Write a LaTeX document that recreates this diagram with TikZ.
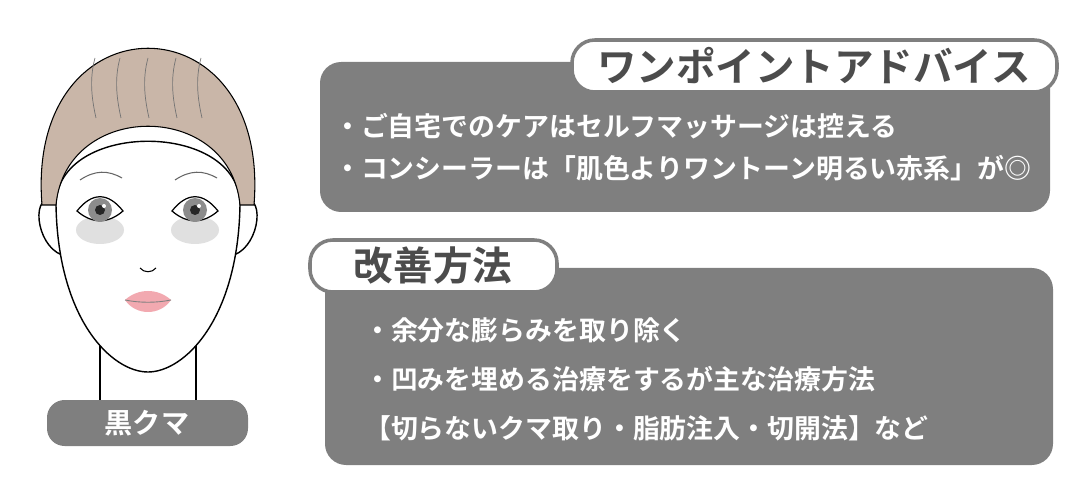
\documentclass[tikz,border=0pt]{standalone}
\usepackage{fontspec}
\setmainfont{Noto Sans CJK JP}
\newfontfamily\jpbold{Noto Sans CJK JP Bold}
\definecolor{boxgray}{HTML}{7F7F7F}
\definecolor{hairtan}{HTML}{C9B6A8}
\definecolor{lippink}{HTML}{F2A9B0}
\begin{document}
\begin{tikzpicture}[x=0.02cm, y=-0.02cm,
    panel/.style={fill=boxgray, rounded corners=12pt},
    tab/.style={draw=boxgray, line width=2pt, fill=white, rounded corners=13pt},
    tabtext/.style={font=\jpbold\fontsize{22.5pt}{22.5pt}\selectfont, text=black!70, anchor=center},
    item/.style={font=\jpbold\fontsize{15.3pt}{15.3pt}\selectfont, text=white, anchor=west},
  ]
  \useasboundingbox (0,0) rectangle (1080,500);

  % advice panel
  \fill[panel] (320,62) rectangle (1050,212);
  \draw[tab] (572,40) rectangle (1057,92);
  \node[tabtext] (advicetitle) at (814,66) {ワンポイントアドバイス};
  \node[item] (advice1) at (328,126) {・ご自宅でのケアはセルフマッサージは控える};
  \node[item] (advice2) at (328,168) {・コンシーラーは「肌色よりワントーン明るい赤系」が◎};

  % method panel
  \fill[panel] (325,268) rectangle (1053,465);
  \draw[tab] (310,240) rectangle (557,292);
  \node[tabtext] (methodtitle) at (433,266) {改善方法};
  \node[item] (method1) at (358,330) {・余分な膨らみを取り除く};
  \node[item] (method2) at (358,379) {・凹みを埋める治療をするが主な治療方法};
  \node[item] (method3) at (358,428) {【切らないクマ取り・脂肪注入・切開法】など};

  % label
  \fill[panel, rounded corners=10pt] (47,400) rectangle (248,446);
  \node[font=\jpbold\fontsize{16pt}{16pt}\selectfont, text=white] (facelabel) at (147,423) {黒クマ};

  % face
  \draw[line width=0.8pt] (100,330) -- (100,400);
  \draw[line width=0.8pt] (196,330) -- (196,400);
  \draw[line width=0.8pt, fill=white] (56,200) .. controls (30,190) and (35,245) .. (62,255);
  \draw[line width=0.8pt, fill=white] (240,200) .. controls (266,190) and (261,245) .. (234,255);
  \draw[line width=0.8pt, fill=white] (56,205) .. controls (58,320) and (112,372) .. (148,372)
    .. controls (184,372) and (238,320) .. (240,205) .. controls (240,120) and (56,120) .. cycle;
  \draw[line width=0.6pt, fill=hairtan] (42,205) .. controls (25,-4) and (271,-4) .. (254,205)
    -- (240,205) .. controls (230,100) and (66,100) .. (56,205) -- cycle;
  \foreach \hx in {95,120,148,176,201}
    \draw[line width=0.4pt, black!55] (\hx,58) .. controls (\hx-6,80) and (\hx-3,100) .. (\hx+1,118);
  % eyes
  \foreach \ex in {100,195} {
    \fill[black!12] (\ex,230) ellipse (24 and 14);
    \draw[line width=0.7pt, fill=white] (\ex-23,211) .. controls (\ex-8,192) and (\ex+8,192) .. (\ex+23,211)
      .. controls (\ex+8,224) and (\ex-8,224) .. cycle;
    \fill[black!45] (\ex,210) circle (12);
    \fill[black!85] (\ex,210) circle (5);
    \fill[white] (\ex+4,206) circle (2);
    \draw[line width=0.6pt, black!60] (\ex-20,180) .. controls (\ex-5,170) and (\ex+8,170) .. (\ex+22,178);
  }
  % nose and lips
  \draw[line width=0.6pt] (140,268) .. controls (144,273) and (152,273) .. (156,268);
  \fill[lippink] (125,300) .. controls (138,288) and (158,288) .. (171,300)
    .. controls (160,316) and (136,316) .. cycle;
  \draw[line width=0.5pt, black!50] (125,300) .. controls (140,303) and (156,303) .. (171,300);
\end{tikzpicture}
\end{document}
